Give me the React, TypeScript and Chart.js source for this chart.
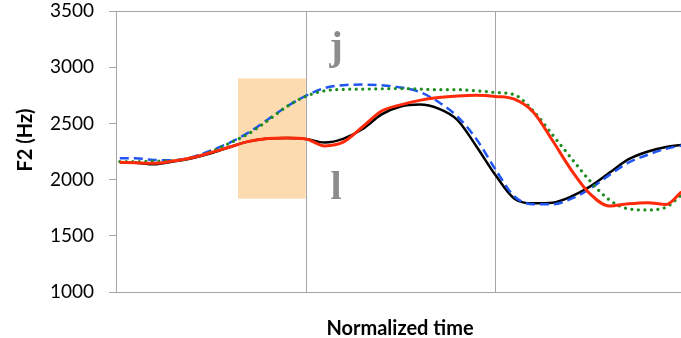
import React, { useEffect, useRef } from "react";
import { Chart, registerables } from "chart.js";

Chart.register(...registerables);

const time = [0.02, 0.1, 0.2, 0.3, 0.4, 0.5, 0.6, 0.7, 0.8, 0.9, 1.0, 1.1, 1.2, 1.3, 1.4, 1.5, 1.6, 1.7, 1.8, 1.9, 2.0, 2.1, 2.2, 2.3, 2.4, 2.5, 2.6, 2.7, 2.8, 2.9, 2.98];
const blackSeries = [2154, 2150, 2136, 2160, 2190, 2234, 2290, 2340, 2365, 2370, 2362, 2330, 2365, 2450, 2580, 2650, 2668, 2632, 2530, 2295, 2040, 1830, 1790, 1795, 1850, 1940, 2060, 2180, 2248, 2290, 2308];
const blueSeries = [2189, 2189, 2175, 2172, 2200, 2258, 2330, 2420, 2535, 2650, 2745, 2815, 2840, 2845, 2840, 2820, 2780, 2690, 2560, 2360, 2090, 1850, 1780, 1780, 1830, 1920, 2040, 2150, 2219, 2275, 2302];
const greenSeries = [2160, 2160, 2165, 2168, 2195, 2248, 2325, 2410, 2525, 2650, 2740, 2790, 2803, 2805, 2808, 2810, 2805, 2800, 2800, 2790, 2775, 2755, 2610, 2400, 2190, 1985, 1820, 1740, 1730, 1755, 1865];
const redSeries = [2154, 2150, 2145, 2165, 2195, 2240, 2290, 2340, 2365, 2370, 2362, 2300, 2335, 2470, 2610, 2665, 2705, 2730, 2744, 2750, 2740, 2715, 2600, 2350, 2085, 1870, 1765, 1785, 1795, 1778, 1890];
const yTicks = [1000, 1500, 2000, 2500, 3000, 3500];
const boundaries = [1, 2];
const highlightX = [0.643, 1.0];
const highlightY = [1830, 2900];
const yTitle = "F2 (Hz)";
const xTitle = "Normalized time";
const upperLabel = "j";
const lowerLabel = "l";

const GREY = "#a6a6a6";

export default function App() {
  const ref = useRef<HTMLCanvasElement | null>(null);
  useEffect(() => {
    const canvas = ref.current;
    if (!canvas) return;
    const pts = (arr: number[]) => arr.map((v, i) => ({ x: time[i], y: v }));

    const decor = {
      id: "decor",
      beforeDatasetsDraw(chart: any) {
        const { ctx, chartArea, scales } = chart;
        const xs = scales.x, ys = scales.y;
        ctx.save();
        ctx.fillStyle = "#fcdbb0";
        const x0 = xs.getPixelForValue(highlightX[0]);
        const x1 = xs.getPixelForValue(highlightX[1]);
        const y0 = ys.getPixelForValue(highlightY[1]);
        const y1 = ys.getPixelForValue(highlightY[0]);
        ctx.fillRect(x0, y0, x1 - x0, y1 - y0);
        ctx.strokeStyle = GREY;
        ctx.lineWidth = 1;
        boundaries.forEach((b) => {
          const px = Math.round(xs.getPixelForValue(b)) + 0.5;
          ctx.beginPath();
          ctx.moveTo(px, chartArea.top);
          ctx.lineTo(px, chartArea.bottom);
          ctx.stroke();
        });
        ctx.restore();
      },
      afterDraw(chart: any) {
        const { ctx, scales } = chart;
        const xs = scales.x;
        ctx.save();
        ctx.fillStyle = "#000";
        ctx.font = "bold 20px Lato";
        ctx.textAlign = "center";
        ctx.textBaseline = "alphabetic";
        ctx.fillText(xTitle, 400, 335);
        ctx.translate(32, 140);
        ctx.rotate(-Math.PI / 2);
        ctx.fillText(yTitle, 0, 0);
        ctx.restore();
        ctx.save();
        ctx.fillStyle = "#8c8c8c";
        ctx.font = "bold 40px 'Liberation Serif'";
        ctx.textAlign = "center";
        ctx.textBaseline = "alphabetic";
        const lx = xs.getPixelForValue(1.16);
        ctx.fillText(upperLabel, lx, 59);
        ctx.fillText(lowerLabel, lx, 199);
        ctx.restore();
      },
    };

    const chart = new Chart(canvas, {
      type: "line",
      data: {
        datasets: [
          {
            label: "red",
            data: pts(redSeries),
            borderColor: "#ff2a0a",
            borderWidth: 3,
            order: 0,
          },
          {
            label: "green",
            data: pts(greenSeries),
            borderColor: "#1f8c1f",
            borderWidth: 3.2,
            borderDash: [0.01, 6.5],
            borderCapStyle: "round",
            order: 1,
          },
          {
            label: "blue",
            data: pts(blueSeries),
            borderColor: "#1f55f0",
            borderWidth: 2.5,
            borderDash: [9, 5],
            order: 2,
          },
          {
            label: "black",
            data: pts(blackSeries),
            borderColor: "#000000",
            borderWidth: 2.5,
            order: 3,
          },
        ] as any,
      },
      options: {
        animation: false,
        responsive: false,
        events: [],
        layout: { padding: { left: 0, right: 0, top: 11, bottom: 0 } },
        elements: {
          point: { radius: 0 },
          line: { cubicInterpolationMode: "monotone", fill: false },
        },
        plugins: { legend: { display: false }, tooltip: { enabled: false } },
        scales: {
          x: {
            type: "linear",
            min: 0,
            max: 2.978,
            ticks: { display: false },
            grid: { display: false, drawTicks: false },
            border: { display: true, color: GREY, width: 1 },
            afterFit(scale: any) {
              scale.height = 46;
              scale.paddingLeft = 0;
              scale.paddingRight = 0;
            },
          },
          y: {
            type: "linear",
            min: 1000,
            max: 3500,
            afterBuildTicks(scale: any) {
              scale.ticks = yTicks.map((v) => ({ value: v }));
            },
            ticks: {
              padding: 15,
              color: "#000",
              font: { family: "Lato", size: 19 },
              callback: (v: any) => String(v),
            },
            grid: {
              drawOnChartArea: true,
              color: (c: any) => (c.tick && c.tick.value === 3500 ? GREY : "rgba(0,0,0,0)"),
              tickColor: GREY,
              tickLength: 7,
            },
            border: { display: true, color: GREY, width: 1 },
            afterFit(scale: any) {
              scale.width = 116;
              scale.paddingTop = 0;
              scale.paddingBottom = 0;
            },
          },
        },
      },
      plugins: [decor],
    });
    return () => chart.destroy();
  }, []);

  return (
    <div style={{ position: "fixed", left: 0, top: 0, width: 681, height: 338, background: "#fff" }}>
      <canvas ref={ref} width={681} height={338} style={{ display: "block", width: 681, height: 338 }} />
    </div>
  );
}
